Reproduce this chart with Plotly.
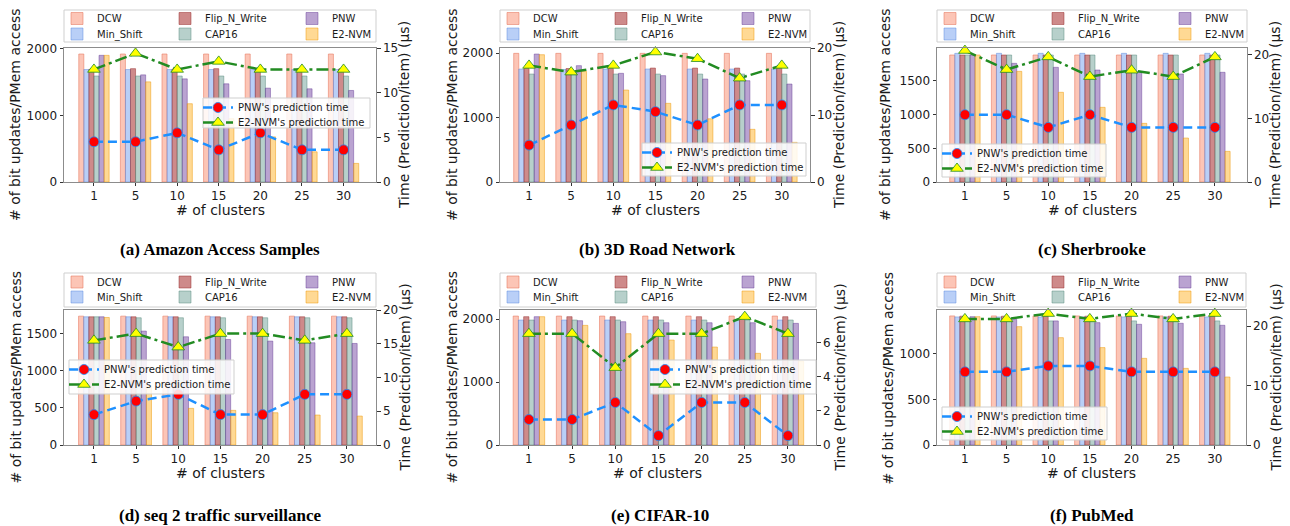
import plotly.graph_objects as go

W, H = 1290, 526

# ---------------- data ----------------
CLUSTERS = ['1', '5', '10', '15', '20', '25', '30']
BAR_NAMES = ['DCW', 'Min_Shift', 'Flip_N_Write', 'CAP16', 'PNW', 'E2-NVM']
LINE_NAMES = ["PNW's prediction time", "E2-NVM's prediction time"]
CAPTIONS = ['(a) Amazon Access Samples', '(b) 3D Road Network', '(c) Sherbrooke',
            '(d) seq 2 traffic surveillance', '(e) CIFAR-10', '(f) PubMed']
X_TITLE = '# of clusters'
Y_LEFT_TITLE = '# of bit updates/PMem access'
Y_RIGHT_TITLE = 'Time (Prediction/item) (μs)'

# (a) Amazon Access Samples
amazon_dcw = [1920, 1920, 1920, 1920, 1920, 1920, 1920]
amazon_min_shift = [1687, 1687, 1687, 1687, 1687, 1687, 1687]
amazon_flip = [1690, 1700, 1695, 1700, 1695, 1700, 1695]
amazon_cap16 = [1590, 1590, 1590, 1590, 1590, 1590, 1590]
amazon_pnw = [1900, 1607, 1547, 1473, 1408, 1398, 1373]
amazon_e2nvm = [1900, 1502, 1174, 950, 677, 453, 279]
amazon_pnw_time = [4.5, 4.5, 5.5, 3.6, 5.5, 3.6, 3.6]
amazon_e2nvm_time = [12.6, 14.4, 12.6, 13.5, 12.6, 12.6, 12.6]

# (b) 3D Road Network
road_dcw = [1995, 1995, 1995, 1995, 1995, 1995, 1995]
road_min_shift = [1752, 1745, 1752, 1752, 1752, 1752, 1752]
road_flip = [1760, 1760, 1762, 1767, 1767, 1767, 1767]
road_cap16 = [1674, 1674, 1674, 1674, 1674, 1674, 1674]
road_pnw = [1984, 1804, 1685, 1649, 1597, 1571, 1519]
road_e2nvm = [1974, 1716, 1426, 1220, 980, 817, 615]
road_pnw_time = [5.5, 8.5, 11.5, 10.5, 8.5, 11.5, 11.5]
road_e2nvm_time = [17.4, 16.4, 17.4, 19.4, 18.4, 15.5, 17.4]

# (c) Sherbrooke
sher_dcw = [1886, 1886, 1886, 1886, 1886, 1886, 1886]
sher_min_shift = [1911, 1911, 1911, 1911, 1911, 1911, 1911]
sher_flip = [1886, 1886, 1886, 1886, 1886, 1886, 1886]
sher_cap16 = [1886, 1886, 1886, 1886, 1886, 1886, 1886]
sher_pnw = [1886, 1762, 1703, 1663, 1640, 1604, 1629]
sher_e2nvm = [1886, 1643, 1332, 1109, 871, 653, 455]
sher_pnw_time = [10.6, 10.6, 8.6, 10.6, 8.6, 8.6, 8.6]
sher_e2nvm_time = [20.7, 17.7, 19.7, 16.6, 17.6, 16.6, 19.7]

# (d) seq 2 traffic surveillance
traffic_dcw = [1741, 1741, 1741, 1741, 1741, 1741, 1741]
traffic_min_shift = [1732, 1732, 1732, 1732, 1732, 1732, 1732]
traffic_flip = [1732, 1732, 1732, 1732, 1732, 1732, 1732]
traffic_cap16 = [1732, 1719, 1719, 1719, 1719, 1719, 1719]
traffic_pnw = [1732, 1539, 1462, 1426, 1404, 1381, 1372]
traffic_e2nvm = [1723, 800, 495, 468, 436, 405, 391]
traffic_pnw_time = [4.5, 6.5, 7.5, 4.5, 4.5, 7.5, 7.5]
traffic_e2nvm_time = [15.5, 16.5, 14.5, 16.5, 16.5, 15.5, 16.5]

# (e) CIFAR-10
cifar_dcw = [2047, 2047, 2047, 2047, 2047, 2047, 2047]
cifar_min_shift = [1984, 1984, 1984, 1984, 1984, 1984, 1984]
cifar_flip = [2037, 2037, 2037, 2037, 2037, 2037, 2037]
cifar_cap16 = [1984, 1984, 1984, 1984, 1984, 1984, 1984]
cifar_pnw = [2037, 1973, 1957, 1941, 1941, 1941, 1931]
cifar_e2nvm = [2037, 1899, 1767, 1666, 1555, 1455, 1330]
cifar_pnw_time = [1.5, 1.5, 2.5, 0.55, 2.5, 2.5, 0.55]
cifar_e2nvm_time = [6.55, 6.55, 4.55, 6.55, 6.55, 7.55, 6.55]

# (f) PubMed
pubmed_dcw = [1418, 1418, 1418, 1418, 1418, 1418, 1418]
pubmed_min_shift = [1407, 1407, 1407, 1407, 1407, 1407, 1407]
pubmed_flip = [1415, 1415, 1415, 1415, 1415, 1415, 1415]
pubmed_cap16 = [1363, 1363, 1363, 1363, 1363, 1363, 1363]
pubmed_pnw = [1410, 1381, 1363, 1344, 1326, 1337, 1315]
pubmed_e2nvm = [1410, 1300, 1179, 1070, 952, 842, 747]
pubmed_pnw_time = [12.3, 12.3, 13.3, 13.3, 12.3, 12.3, 12.3]
pubmed_e2nvm_time = [21.2, 21.2, 22.1, 21.2, 22.1, 21.2, 22.1]

# tick values
LEFT_TICKS = [[0, 1000, 2000], [0, 1000, 2000], [0, 500, 1000, 1500],
              [0, 500, 1000, 1500], [0, 1000, 2000], [0, 500, 1000]]
RIGHT_TICKS = [[0, 5, 10, 15], [0, 10, 20], [0, 10, 20],
               [0, 5, 10, 15, 20], [0, 2, 4, 6], [0, 10, 20]]

PANEL_BARS = [
    [amazon_dcw, amazon_min_shift, amazon_flip, amazon_cap16, amazon_pnw, amazon_e2nvm],
    [road_dcw, road_min_shift, road_flip, road_cap16, road_pnw, road_e2nvm],
    [sher_dcw, sher_min_shift, sher_flip, sher_cap16, sher_pnw, sher_e2nvm],
    [traffic_dcw, traffic_min_shift, traffic_flip, traffic_cap16, traffic_pnw, traffic_e2nvm],
    [cifar_dcw, cifar_min_shift, cifar_flip, cifar_cap16, cifar_pnw, cifar_e2nvm],
    [pubmed_dcw, pubmed_min_shift, pubmed_flip, pubmed_cap16, pubmed_pnw, pubmed_e2nvm],
]
PANEL_LINES = [
    [amazon_pnw_time, amazon_e2nvm_time],
    [road_pnw_time, road_e2nvm_time],
    [sher_pnw_time, sher_e2nvm_time],
    [traffic_pnw_time, traffic_e2nvm_time],
    [cifar_pnw_time, cifar_e2nvm_time],
    [pubmed_pnw_time, pubmed_e2nvm_time],
]

# ---------------- layout geometry / style ----------------
# plot areas in pixels: left, right, top, bottom
GEOM = [
    dict(l=64, r=376, t=48, b=182, xr=[-0.72, 6.78], yl=2010, yr=15.0,
         ylt=15, yrt=404, cap_x=220, lbox=(203, 370, 98, 128)),
    dict(l=500, r=810, t=48, b=182, xr=[-0.69, 6.67], yl=2078, yr=20.0,
         ylt=452, yrt=839, cap_x=657, lbox=(642, 806, 143, 176)),
    dict(l=937, r=1247, t=48, b=182, xr=[-0.67, 6.77], yl=1990, yr=21.1,
         ylt=885, yrt=1275, cap_x=1092, lbox=(942, 1106, 144, 177)),
    dict(l=64, r=376, t=310, b=445, xr=[-0.71, 6.69], yl=1824, yr=20.0,
         ylt=15, yrt=404, cap_x=220, lbox=(69, 234, 360, 394)),
    dict(l=500, r=816, t=310, b=445, xr=[-0.67, 6.65], yl=2143, yr=7.94,
         ylt=451, yrt=839, cap_x=660, lbox=(650, 816, 360, 394)),
    dict(l=937, r=1246, t=310, b=445, xr=[-0.67, 6.75], yl=1483, yr=22.7,
         ylt=887, yrt=1275, cap_x=1092, lbox=(942, 1107, 407, 440)),
]

BAR_FILL = ['rgba(250,140,110,0.50)', 'rgba(100,149,237,0.45)', 'rgba(165,42,42,0.55)',
            'rgba(95,150,140,0.45)', 'rgba(102,51,153,0.45)', 'rgba(255,165,0,0.42)']
BAR_EDGE = ['rgba(230,120,95,0.7)', 'rgba(90,135,220,0.6)', 'rgba(150,40,40,0.6)',
            'rgba(85,135,125,0.6)', 'rgba(95,50,145,0.55)', 'rgba(235,150,0,0.6)']
# legend rows: 0 -> first row, 1 -> second row; column index
BAR_ROW = [0, 1, 0, 1, 0, 1]
BAR_COL = [0, 0, 1, 1, 2, 2]
COL_TEXT_OFFSETS = [33, 141, 268]

FONT = 'DejaVu Sans'
TXT = '#1a1a1a'
FRAME = '#8c8c8c'
TICK_SIZE = 12


def py(p):
    return 1 - p / H


def px(p):
    return p / W


fig = go.Figure()
layout = dict(
    width=W, height=H, margin=dict(l=0, r=0, t=0, b=0, autoexpand=False),
    paper_bgcolor='white', plot_bgcolor='white',
    barmode='group', bargap=0.27, bargroupgap=0.0,
    font=dict(family=FONT, color=TXT),
    showlegend=True,
)
shapes = []
annotations = []

for p, g in enumerate(GEOM):
    n = p + 1
    xid = 'x' if n == 1 else f'x{n}'
    yid = 'y' if n == 1 else f'y{n}'
    y2n = p + 7
    y2id = f'y{y2n}'
    xkey = 'xaxis' if n == 1 else f'xaxis{n}'
    ykey = 'yaxis' if n == 1 else f'yaxis{n}'
    y2key = f'yaxis{y2n}'

    layout[xkey] = dict(
        domain=[px(g['l']), px(g['r'])], anchor=yid, type='category',
        range=g['xr'], showline=True, mirror=True, linecolor=FRAME, linewidth=1,
        ticks='outside', ticklen=3, tickcolor='#333', tickwidth=1,
        tickfont=dict(size=TICK_SIZE, color=TXT, family=FONT),
        showgrid=False, zeroline=False, fixedrange=True, automargin=False)
    layout[ykey] = dict(
        domain=[py(g['b']), py(g['t'])], anchor=xid, range=[0, g['yl']],
        tickmode='array', tickvals=LEFT_TICKS[p],
        showline=True, mirror=True, linecolor=FRAME, linewidth=1,
        ticks='outside', ticklen=3.5, tickcolor='#333', tickwidth=1,
        tickfont=dict(size=TICK_SIZE, color=TXT, family=FONT),
        showgrid=False, zeroline=False, fixedrange=True, automargin=False)
    layout[y2key] = dict(
        overlaying=yid, side='right', anchor=xid, range=[0, g['yr']],
        tickmode='array', tickvals=RIGHT_TICKS[p], showline=False,
        ticks='outside', ticklen=3.5, tickcolor='#333', tickwidth=1,
        tickfont=dict(size=TICK_SIZE, color=TXT, family=FONT),
        showgrid=False, zeroline=False, fixedrange=True, automargin=False)

    # legend ids for this panel
    lg = [4 * p + k for k in (1, 2, 3, 4)]
    lg_ids = ['legend' if i == 1 else f'legend{i}' for i in lg]

    # bar legend box and rows
    if g['t'] < 100:
        box_t, box_b, rows = 10, 42, (18.5, 34)
    else:
        box_t, box_b, rows = 273, 307, (282, 297)
    shapes.append(dict(type='rect', xref='paper', yref='paper',
                       x0=px(g['l']), x1=px(g['r']), y0=py(box_b), y1=py(box_t),
                       line=dict(color='#cfcfcf', width=1), fillcolor='white', layer='above'))
    col_starts = [g['l'] + o for o in COL_TEXT_OFFSETS]
    col_widths = [col_starts[1] - col_starts[0] - 45, col_starts[2] - col_starts[1] - 45, 60]
    for r in range(2):
        layout['legend' if lg[r] == 1 else f'legend{lg[r]}'] = dict(
            orientation='h', x=px(col_starts[0] - 40), y=py(rows[r] - 14.5),
            xanchor='left', yanchor='top', bgcolor='rgba(0,0,0,0)', borderwidth=0,
            font=dict(size=10, color=TXT, family=FONT), itemwidth=30,
            traceorder='normal', itemclick=False, itemdoubleclick=False)

    # line legend box and rows
    lx0, lx1, lt, lb = g['lbox']
    shapes.append(dict(type='rect', xref='paper', yref='paper',
                       x0=px(lx0), x1=px(lx1), y0=py(lb), y1=py(lt),
                       line=dict(color='#cfcfcf', width=1),
                       fillcolor='rgba(255,255,255,0.85)', layer='above'))
    for r in range(2):
        layout['legend' if lg[2 + r] == 1 else f'legend{lg[2 + r]}'] = dict(
            orientation='h', x=px(lx0 + 35 - 40), y=py(lt + 9.5 + 15 * r - 14.5),
            xanchor='left', yanchor='top', bgcolor='rgba(0,0,0,0)', borderwidth=0,
            font=dict(size=10, color=TXT, family=FONT), itemwidth=30,
            itemclick=False, itemdoubleclick=False)

    # bars
    for s, name in enumerate(BAR_NAMES):
        fig.add_trace(go.Bar(
            x=CLUSTERS, y=PANEL_BARS[p][s], name=name, xaxis=xid, yaxis=yid,
            marker=dict(color=BAR_FILL[s], line=dict(color=BAR_EDGE[s], width=0.8)),
            legend=lg_ids[BAR_ROW[s]], legendwidth=col_widths[BAR_COL[s]],
            offsetgroup=str(s), hoverinfo='skip'))

    # lines
    fig.add_trace(go.Scatter(
        x=CLUSTERS, y=PANEL_LINES[p][0], name=LINE_NAMES[0], xaxis=xid, yaxis=y2id,
        mode='lines+markers', cliponaxis=False,
        line=dict(color='#1E90FF', width=2.5, dash='9px,5px'),
        marker=dict(symbol='circle', size=10, color='#ff0000',
                    line=dict(color='#1E90FF', width=0.8)),
        legend=lg_ids[2]))
    fig.add_trace(go.Scatter(
        x=CLUSTERS, y=PANEL_LINES[p][1], name=LINE_NAMES[1], xaxis=xid, yaxis=y2id,
        mode='lines+markers', cliponaxis=False,
        line=dict(color='#228B22', width=2.5, dash='12px,4px,3px,4px'),
        marker=dict(symbol='triangle-up', size=11, color='#ffff00',
                    line=dict(color='#228B22', width=0.8)),
        legend=lg_ids[3]))

    # axis titles and caption
    cy = (g['t'] + g['b']) / 2
    cx = (g['l'] + g['r']) / 2
    annotations.append(dict(text=Y_LEFT_TITLE, x=px(g['ylt']), y=py(cy), xref='paper', yref='paper',
                            textangle=-90, showarrow=False, xanchor='center', yanchor='middle',
                            font=dict(size=14, color=TXT, family=FONT)))
    annotations.append(dict(text=Y_RIGHT_TITLE, x=px(g['yrt']), y=py(cy), xref='paper', yref='paper',
                            textangle=-90, showarrow=False, xanchor='center', yanchor='middle',
                            font=dict(size=14, color=TXT, family=FONT)))
    annotations.append(dict(text=X_TITLE, x=px(cx), y=py(g['b'] + 28), xref='paper', yref='paper',
                            showarrow=False, xanchor='center', yanchor='middle',
                            font=dict(size=14, color=TXT, family=FONT)))
    annotations.append(dict(text=CAPTIONS[p], x=px(g['cap_x']), y=py(249 if g['t'] < 100 else 515),
                            xref='paper', yref='paper', showarrow=False,
                            xanchor='center', yanchor='middle',
                            font=dict(size=17, color='black', family='Liberation Serif', weight='bold')))

layout['shapes'] = shapes
layout['annotations'] = annotations
fig.update_layout(**layout)

fig.write_html('out.html', config={'displayModeBar': False},
               post_script="document.body.style.margin='0px';document.body.style.overflow='hidden';")
